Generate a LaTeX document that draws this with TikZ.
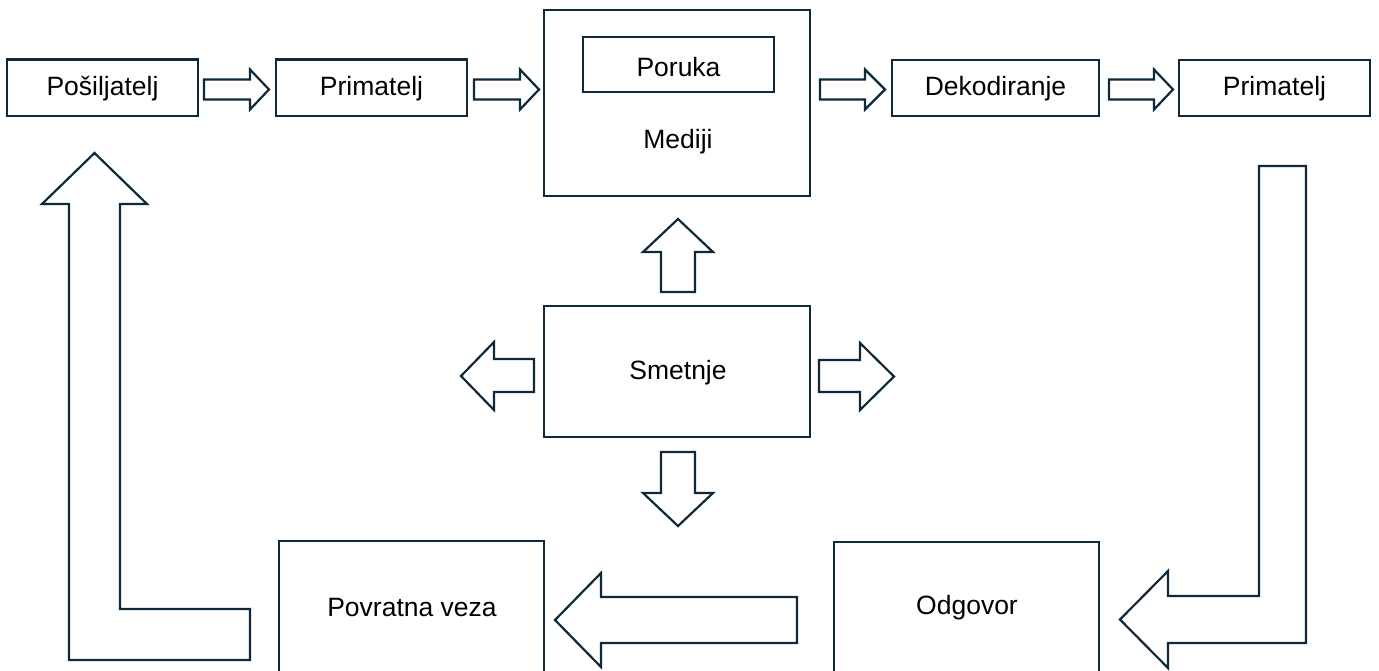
\documentclass[tikz,border=0pt]{standalone}
\usepackage{fontspec}
\setmainfont{Liberation Sans}
\definecolor{navy}{RGB}{14,41,58}
\begin{document}
\begin{tikzpicture}[x=1pt,y=-1pt,
  box/.style={draw=navy,line width=2.2pt,fill=white},
  lbl/.style={font=\fontsize{26.5}{30}\selectfont,text=black,inner sep=0pt},
  blk/.style={draw=navy,line width=2.2pt,fill=white,line join=miter}]
\useasboundingbox (0,0) rectangle (1379,670);
\clip (0,0) rectangle (1379,670);
% boxes
\draw[box] (7,59.5) rectangle (198,116);
\draw[box] (276,59.5) rectangle (467,116);
\draw[box] (544,10) rectangle (810,196);
\draw[box] (583,37) rectangle (774,92);
\draw[box] (892,60) rectangle (1099,116);
\draw[box] (1179,60) rectangle (1370,116);
\draw[box] (544,306) rectangle (810,437);
\draw[box] (279,541) rectangle (544,700);
\draw[box] (834,542) rectangle (1099,700);
% labels
\node[lbl] (pos) at (102.5,89) {Pošiljatelj};
\node[lbl] (prim1) at (371.5,89) {Primatelj};
\node[lbl] (poruka) at (678.5,67) {Poruka};
\node[lbl] (mediji) at (678,142) {Mediji};
\node[lbl] (dekod) at (995.5,89) {Dekodiranje};
\node[lbl] (prim2) at (1274.5,89) {Primatelj};
\node[lbl] (smet) at (678,373) {Smetnje};
\node[lbl] (povr) at (412,608) {Povratna veza};
\node[lbl] (odg) at (967,608) {Odgovor};
% top row block arrows
\foreach \a/\b/\c in {204/250/269, 474/520/539, 820/865/885, 1109/1154/1173}{
  \draw[blk] (\a,79.5) -- (\b,79.5) -- (\b,69.5) -- (\c,89.5) -- (\b,109.5) -- (\b,99.5) -- (\a,99.5) -- cycle;
}
% arrows around Smetnje
\draw[blk] (661,292) -- (661,252) -- (643,252) -- (678,219) -- (713,252) -- (695,252) -- (695,292) -- cycle;
\draw[blk] (661,452) -- (661,493) -- (643,493) -- (678,526) -- (713,493) -- (695,493) -- (695,452) -- cycle;
\draw[blk] (534,359) -- (494,359) -- (494,342) -- (461,376) -- (494,410) -- (494,392) -- (534,392) -- cycle;
\draw[blk] (819,360) -- (860,360) -- (860,343) -- (894,376.5) -- (860,410) -- (860,392) -- (819,392) -- cycle;
% big left arrow
\draw[blk] (797,597) -- (601,597) -- (601,573) -- (555,620) -- (601,667) -- (601,643) -- (797,643) -- cycle;
% left L arrow
\draw[blk] (250,609) -- (120,609) -- (120,204) -- (147,204) -- (94.5,153) -- (42,204) -- (69,204) -- (69,660) -- (250,660) -- cycle;
% right L arrow
\draw[blk] (1259,166) -- (1306,166) -- (1306,643) -- (1168,643) -- (1168,668) -- (1120,619.5) -- (1168,571) -- (1168,596) -- (1259,596) -- cycle;
\end{tikzpicture}
\end{document}
